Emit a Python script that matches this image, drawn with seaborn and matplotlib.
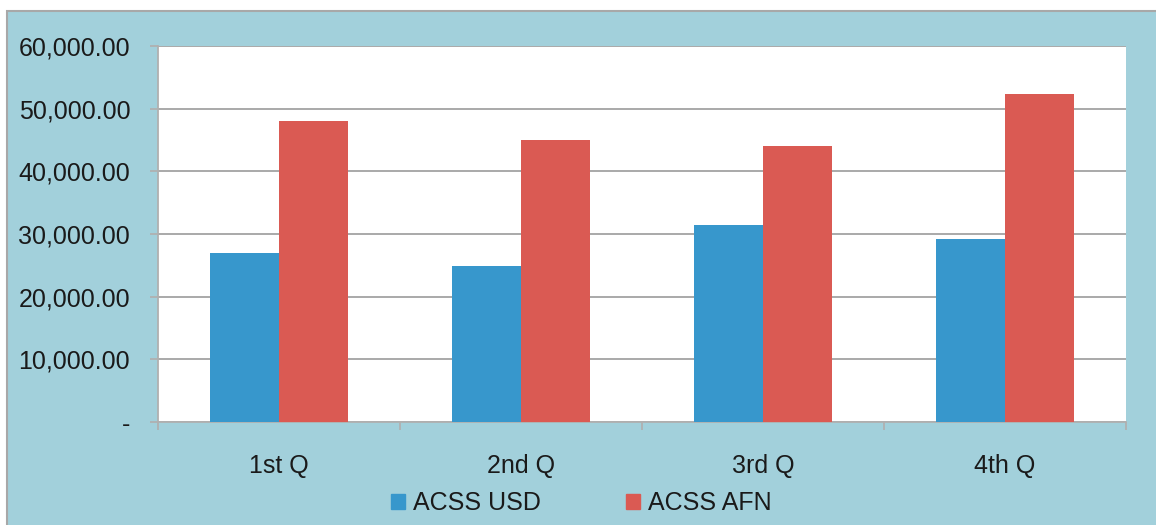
import matplotlib
matplotlib.use("Agg")
import matplotlib.pyplot as plt
import matplotlib.patches as mpatches
from matplotlib.ticker import FuncFormatter
import pandas as pd
import seaborn as sns

# data
quarters = ["1st Q", "2nd Q", "3rd Q", "4th Q"]
acss_usd = [26900, 24950, 31450, 29250]
acss_afn = [48050, 45050, 44050, 52350]
series_names = ["ACSS USD", "ACSS AFN"]

BG = "#A2D0DB"
BLUE = "#3797CC"
RED = "#DA5A53"
GRID_C = "#A3A3A3"
FG = "#1A1A1A"

sns.set_theme(style="white")
plt.rcParams["font.family"] = ["Liberation Sans", "DejaVu Sans"]

df = pd.DataFrame({
    "quarter": quarters * 2,
    "value": acss_usd + acss_afn,
    "series": [series_names[0]] * 4 + [series_names[1]] * 4,
})

fig = plt.figure(figsize=(11.56, 5.25), dpi=100)
fig.patch.set_facecolor("white")
# blue panel with grey frame (top and left edges visible)
panel = mpatches.Rectangle((6.5 / 1156, -0.05), 1.1, 1 - 10.5 / 525 + 0.05,
                           transform=fig.transFigure, facecolor=BG,
                           edgecolor="#A8A8A8", linewidth=1.5, zorder=-10)
fig.patches.append(panel)

ax = fig.add_axes([158 / 1156, 1 - 422 / 525, 968 / 1156, 376 / 525])
ax.set_zorder(1)
ax.set_facecolor("white")

sns.barplot(data=df, x="quarter", y="value", hue="series", order=quarters,
            hue_order=series_names, palette=[BLUE, RED], width=0.57,
            saturation=1, linewidth=0, ax=ax, legend=True, zorder=3)

ax.set_ylim(0, 60000)
ax.set_xlim(-0.5, 3.5)
ax.set_yticks(range(0, 60001, 10000))
ax.yaxis.set_major_formatter(FuncFormatter(lambda v, p: "-" if v == 0 else f"{v:,.2f}"))
ax.grid(axis="y", color=GRID_C, linewidth=1.3, zorder=0)
ax.set_axisbelow(True)
ax.set_xlabel("")
ax.set_ylabel("")

for s in ["top", "right"]:
    ax.spines[s].set_visible(False)
for s in ["left", "bottom"]:
    ax.spines[s].set_color("#B0B0B0")
    ax.spines[s].set_linewidth(1.3)

# x ticks at category boundaries, labels centred on categories
ax.set_xticks([-0.5, 0.5, 1.5, 2.5, 3.5], minor=False)
ax.set_xticklabels([])
ax.set_xticks([0, 1, 2, 3], minor=True)
ax.set_xticklabels(quarters, minor=True)
ax.tick_params(axis="x", which="major", direction="out", length=6, width=1.3,
               color="#B0B0B0", bottom=True)
ax.tick_params(axis="x", which="minor", length=0, pad=23, labelsize=18, labelcolor=FG)
ax.tick_params(axis="y", direction="out", length=6, width=1.3, color="#B0B0B0",
               left=True, pad=14, labelsize=18, labelcolor=FG)

ax.get_legend().remove()
handles = [mpatches.Patch(color=BLUE), mpatches.Patch(color=RED)]
fig.legend(handles, series_names, loc="center", bbox_to_anchor=(0.5026, 1 - 503 / 525),
           ncol=2, frameon=False, fontsize=18, handlelength=0.56, handleheight=0.56,
           handletextpad=0.32, columnspacing=3.4, labelcolor=FG, borderaxespad=0)

fig.savefig("out.png", dpi=100)
